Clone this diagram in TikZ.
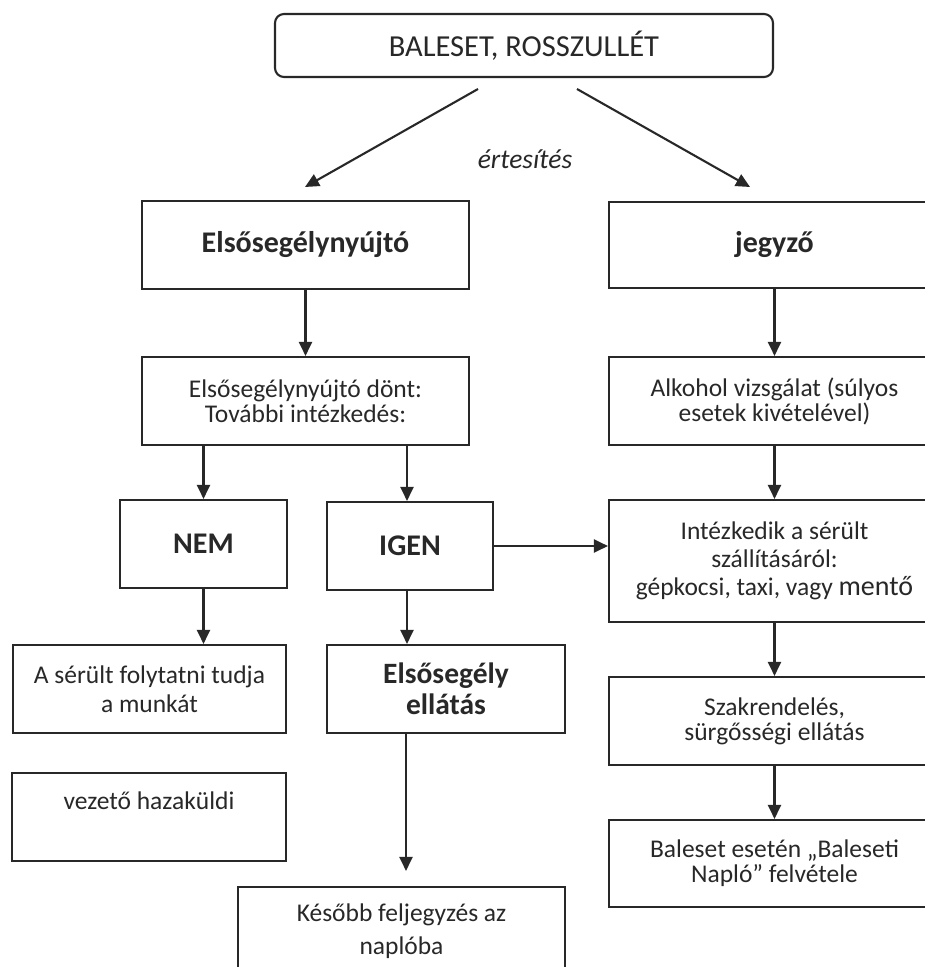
\documentclass[tikz,border=0pt]{standalone}
\usepackage{fontspec}
\setmainfont{Carlito}
\usetikzlibrary{arrows.meta,calc}
\definecolor{ink}{RGB}{40,40,40}
\begin{document}
\begin{tikzpicture}[x=1pt,y=-1pt,
  box/.style={draw=ink, line width=2.1pt, text=ink, align=center, inner sep=0pt,
    font=\fontsize{25.5}{25}\selectfont},
  bigb/.style={font=\fontsize{30}{32}\selectfont\bfseries},
  arr/.style={draw=ink, line width=2.1pt, -{Triangle[length=14pt,width=13pt]}}]
\clip (0,0) rectangle (925,967);
\fill[white] (0,0) rectangle (925,967);
% top
\node[box, rounded corners=9pt, minimum width=498pt, minimum height=63pt,
  font=\fontsize{30.5}{34}\selectfont] (top) at (524,45.5) {BALESET, ROSSZULLÉT};
\node[text=ink, font=\fontsize{27.5}{30}\selectfont\itshape] (ert) at (525,159) {értesítés};
% left column
\node[box, bigb, minimum width=327pt, minimum height=88pt] (A) at (305.5,245) {Elsősegélynyújtó};
\node[box, minimum width=327pt, minimum height=88pt] (C) at (305.5,401) {Elsősegélynyújtó dönt:\\További intézkedés:};
\node[box, bigb, minimum width=167pt, minimum height=88pt] (E) at (203.5,544) {NEM};
\node[box, bigb, minimum width=166pt, minimum height=88pt] (F) at (410,546) {IGEN};
\node[box, minimum width=273pt, minimum height=88pt, font=\fontsize{25.5}{29}\selectfont] (H) at (149.5,689) {A sérült folytatni tudja\\a munkát};
\node[box, minimum width=238pt, minimum height=88pt, font=\fontsize{29.5}{31}\selectfont\bfseries] (I) at (446,689) {Elsősegély\\ellátás};
\node[box, minimum width=274pt, minimum height=88pt] (K) at (149,817) {vezető hazaküldi\\[8pt]\mbox{}};
\node[box, minimum width=327pt, minimum height=88pt, font=\fontsize{25.5}{33}\selectfont] (M) at (401.5,931) {Később feljegyzés az\\naplóba};
% right column
\node[box, bigb, minimum width=331pt, minimum height=86pt] (B) at (774.5,245) {jegyző};
\node[box, minimum width=331pt, minimum height=88pt] (D) at (774.5,401) {Alkohol vizsgálat (súlyos\\esetek kivételével)};
\node[box, minimum width=331pt, minimum height=122pt, font=\fontsize{25.5}{28}\selectfont] (G) at (774.5,561) {Intézkedik a sérült\\szállításáról:\\gépkocsi, taxi, vagy {\fontsize{28}{28}\selectfont mentő}};
\node[box, minimum width=331pt, minimum height=88pt] (J) at (774.5,721) {Szakrendelés,\\sürgősségi ellátás};
\node[box, minimum width=331pt, minimum height=87pt] (L) at (774.5,863.5) {Baleset esetén „Baleseti\\Napló” felvétele};
% diagonal connectors
\coordinate (tl) at (478,89);
\coordinate (al) at (305,187);
\coordinate (tr) at (577,89);
\coordinate (br) at (750,187);
\draw[arr] (tl) -- (al);
\draw[arr] (tr) -- (br);
% vertical connectors
\draw[arr] (A) -- (C);
\draw[arr] (B) -- (D);
\draw[arr] (C.south -| E.north) -- (E.north);
\draw[arr] ([xshift=-3pt]C.south -| F.north) -- ([xshift=-3pt]F.north);
\draw[arr] (D) -- (G);
\draw[arr] (F.east) -- (F.east -| G.west);
\draw[arr] (E.south) -- (E.south |- H.north);
\draw[arr] ([xshift=-3pt]F.south) -- ([xshift=-3pt]F.south |- I.north);
\draw[arr] (G) -- (J);
\draw[arr, shorten >=15pt] ([xshift=-4pt]F.south |- I.south) -- ([xshift=-4pt]F.south |- M.north);
\draw[arr] (J) -- (L);
\end{tikzpicture}
\end{document}
